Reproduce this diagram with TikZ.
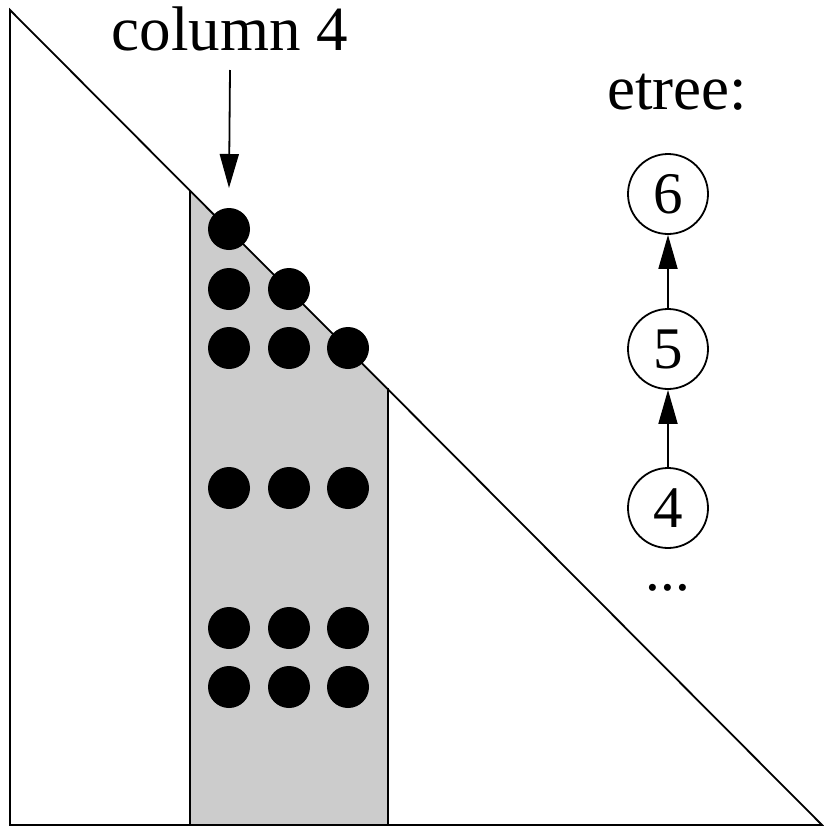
\documentclass[tikz,border=0pt]{standalone}
\usepackage{fontspec}
\setmainfont{Liberation Serif}
\usetikzlibrary{arrows.meta}
\begin{document}
\begin{tikzpicture}[x=1pt,y=-1pt,line width=1.8pt,line join=miter,>={Triangle[length=34pt,width=19pt]}]
		\tikzset{lbl/.style={font=\fontsize{63}{66}\selectfont,inner sep=0pt},
			tnode/.style={circle,draw,minimum size=80pt,inner sep=0pt,font=\fontsize{59}{62}\selectfont}
		}
		\useasboundingbox (0,0) rectangle (823,828);
		\fill[black!20] (190,190)--(190,825)--(388,825)--(388,388)--cycle;
		\draw (190,190)--(190,825) (388,388)--(388,825);
		\draw (10,10)--(10,825)--(822,825)--cycle;
		% column of nonzeros
		\fill (229,229) circle(21);
		\fill (229,289) circle(21); \fill (289,289) circle(21);
		\foreach \y in {348,488,628,687}{
			\foreach \x in {229,289,348} \fill (\x,\y) circle(21);
		}
		\node[lbl,anchor=base] (col) at (230,50) {column 4};
		\coordinate (colTip) at (229,188);
		\draw[->] (col.south |- 0,70) -- (colTip);
		% elimination tree
		\node[lbl,anchor=base] (etree) at (677,109) {etree:};
		\node[tnode] (e6) at (668,194) {6};
		\node[tnode] (e5) at (668,349) {5};
		\node[tnode] (e4) at (668,508) {4};
		\node[tnode,draw=none,anchor=base,minimum size=0pt] (more) at (668,590) {...};
		\draw[->] (e5) -- (e6);
		\draw[->] (e4) -- (e5);
	\end{tikzpicture}
\end{document}
